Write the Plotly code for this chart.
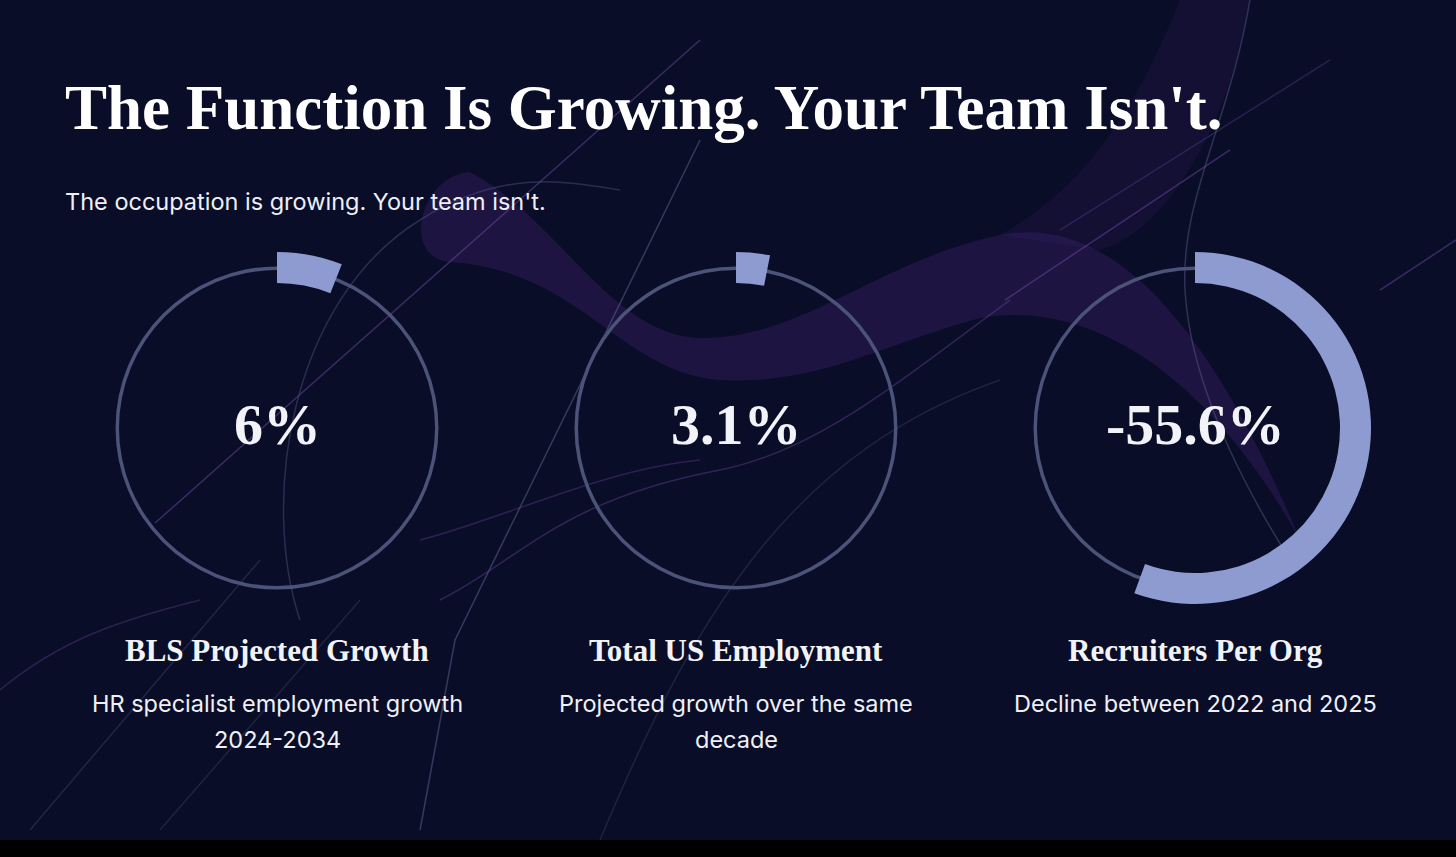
import re
import plotly.graph_objects as go

# stat cards
values = [6, 3.1, -55.6]
value_labels = ["6%", "3.1%", "-55.6%"]
titles = ["BLS Projected Growth", "Total US Employment", "Recruiters Per Org"]
descriptions = [["HR specialist employment growth", "2024-2034"],
                ["Projected growth over the same", "decade"],
                ["Decline between 2022 and 2025"]]

headline = "The Function Is Growing. Your Team Isn't."
subhead = "The occupation is growing. Your team isn't."

W, H = 1456, 857
BG = "#0a0d27"
ARC = "#8e9bd0"
RING = "#4b5379"
SERIF = "Liberation Serif, DejaVu Serif, serif"
SANS = "Inter, Roboto, sans-serif"

centers_x = [277, 736, 1195]
cy = 428
half = 177


def px(x):
    return x / W


def py(y):
    return 1 - y / H


def to_paper(path):
    # pixel path -> paper path (numbers come in x, y pairs)
    out, k = [], 0
    for tok in re.findall(r"[A-Za-z]|-?\d+\.?\d*", path):
        if tok.isalpha():
            out.append(tok)
            continue
        val = float(tok)
        out.append(f"{px(val):.4f}" if k % 2 == 0 else f"{py(val):.4f}")
        k += 1
    return " ".join(out)


fig = go.Figure()

# decorative background ribbon + thin lines
deco = [
    ("M 470 172 C 560 220 610 335 700 338 C 800 340 880 260 1000 235 "
     "C 1100 215 1200 300 1300 540 "
     "C 1200 360 1080 300 980 318 "
     "C 880 345 820 385 720 380 C 620 372 580 270 450 262 "
     "C 400 258 420 175 470 172 Z",
     "rgba(85,42,145,0.26)"),
    ("M 1000 235 C 1060 200 1120 150 1180 0 L 1250 0 C 1230 120 1170 230 1100 250 Z",
     "rgba(70,35,125,0.16)"),
]
shapes = []
for path, fill in deco:
    shapes.append(dict(type="path", path=to_paper(path), fillcolor=fill,
                       line=dict(width=0), layer="below", xref="paper", yref="paper"))

thin = [
    ("M 155 523 L 700 40", "rgba(120,80,170,0.45)"),
    ("M 700 140 L 455 640 L 420 830", "rgba(90,95,140,0.55)"),
    ("M 300 620 C 260 500 290 300 420 220 C 500 170 560 180 620 190", "rgba(80,85,130,0.45)"),
    ("M 440 600 C 520 560 560 500 720 470 C 820 450 900 380 1010 300", "rgba(110,70,160,0.4)"),
    ("M 420 540 C 500 520 600 470 700 460", "rgba(110,70,160,0.35)"),
    ("M 1005 300 L 1230 150", "rgba(120,80,170,0.45)"),
    ("M 1060 230 L 1330 60", "rgba(100,70,160,0.35)"),
    ("M 1380 290 L 1456 240", "rgba(120,80,170,0.45)"),
    ("M 1250 0 C 1230 120 1180 200 1185 290 C 1190 380 1240 480 1290 560", "rgba(90,95,140,0.45)"),
    ("M 0 690 C 60 640 120 620 200 600", "rgba(110,70,160,0.35)"),
    ("M 30 830 L 260 560", "rgba(80,85,130,0.35)"),
    ("M 160 830 L 360 600", "rgba(80,85,130,0.3)"),
    ("M 600 840 C 700 600 800 450 1000 380", "rgba(80,85,130,0.3)"),
]
for path, col in thin:
    shapes.append(dict(type="path", path=to_paper(path), line=dict(color=col, width=1.5),
                       layer="below", xref="paper", yref="paper"))

# bottom black band
shapes.append(dict(type="rect", xref="paper", yref="paper", x0=0, x1=1,
                   y0=0, y1=py(840), fillcolor="#000000", line=dict(width=0),
                   layer="below"))

annotations = [
    dict(text=headline, x=px(63), y=py(108), xanchor="left", yanchor="middle",
         font=dict(family=SERIF, size=63, color="#ffffff", weight="bold")),
    dict(text=subhead, x=px(63), y=py(201), xanchor="left", yanchor="middle",
         font=dict(family=SANS, size=23.5, color="#eef0f8")),
]

for i, v in enumerate(values):
    cx = centers_x[i]
    pid = "polar" if i == 0 else f"polar{i + 1}"
    sweep = abs(v) / 100 * 360
    # base ring
    fig.add_trace(go.Barpolar(r=[3.5], base=[158], theta=[180], width=[360],
                              marker=dict(color=RING, line=dict(width=0)),
                              subplot=pid, hoverinfo="skip", showlegend=False))
    # value arc
    fig.add_trace(go.Barpolar(r=[31], base=[145], theta=[sweep / 2], width=[sweep],
                              marker=dict(color=ARC, line=dict(width=0)),
                              subplot=pid, name=titles[i], showlegend=False))
    fig.layout[pid] = dict(
        domain=dict(x=[px(cx - half), px(cx + half)], y=[py(cy + half), py(cy - half)]),
        bgcolor="rgba(0,0,0,0)",
        radialaxis=dict(range=[0, half], visible=False),
        angularaxis=dict(visible=False, direction="clockwise", rotation=90),
    )
    annotations += [
        dict(text=value_labels[i], x=px(cx), y=py(cy - 4), xanchor="center", yanchor="middle",
             font=dict(family=SERIF, size=58, color="#f2f3f8", weight="bold")),
        dict(text=titles[i], x=px(cx), y=py(650), xanchor="center", yanchor="middle",
             font=dict(family=SERIF, size=31, color="#f2f3f8", weight="bold")),
    ]
    for j, line in enumerate(descriptions[i]):
        annotations.append(
            dict(text=line, x=px(cx), y=py(703 + 36 * j), xanchor="center", yanchor="middle",
                 font=dict(family=SANS, size=23.5, color="#eef0f8")))

for a in annotations:
    a.update(xref="paper", yref="paper", showarrow=False)

fig.update_layout(
    width=W, height=H, margin=dict(l=0, r=0, t=0, b=0),
    paper_bgcolor=BG, plot_bgcolor=BG,
    shapes=shapes, annotations=annotations, showlegend=False,
)

fig.write_html("out.html", config={"displayModeBar": False},
               post_script="document.body.style.margin='0';document.body.style.overflow='hidden';")
